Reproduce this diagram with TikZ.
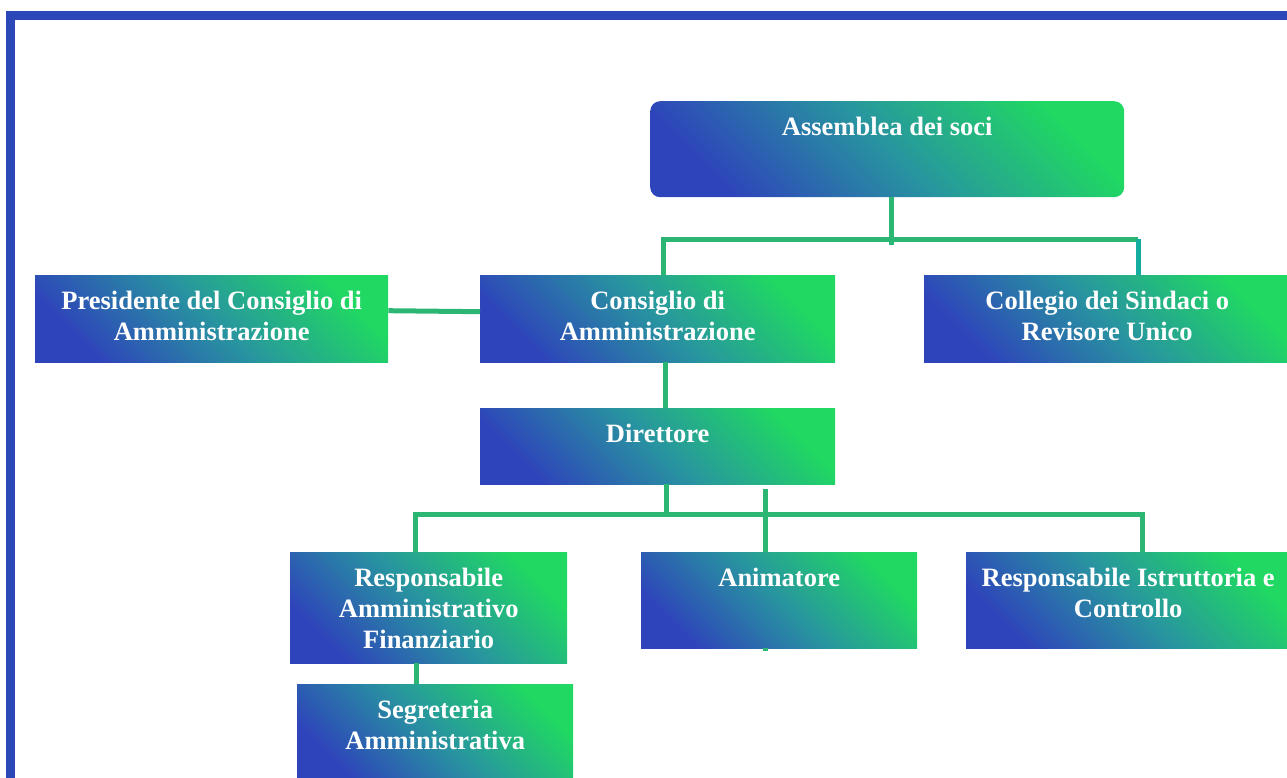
\documentclass[tikz,border=0pt]{standalone}
\usepackage{fontspec}
\setmainfont{Liberation Serif}
\definecolor{frameblue}{HTML}{2C48B8}
\definecolor{gblue}{HTML}{2E44BA}
\definecolor{gmid}{HTML}{2894A0}
\definecolor{ggreen}{HTML}{20D862}
\definecolor{lgreen}{HTML}{2CB674}
\definecolor{lteal}{HTML}{14ADA0}
\begin{document}
\begin{tikzpicture}[x=1pt,y=-1pt,
  box/.style={draw=none, inner sep=0pt, anchor=north west,
    top color=ggreen, bottom color=gblue, middle color=gmid, shading angle=-45},
  txt/.style={text=white, font=\fontsize{26.5}{31}\selectfont\bfseries,
    align=center, inner sep=0pt, anchor=north},
  conn/.style={draw=lgreen, line width=5pt}]
\useasboundingbox (0,0) rectangle (1287,778);
\clip (0,0) rectangle (1287,778);
% frame
\fill[frameblue] (6,11) rectangle (1287,20);
\fill[frameblue] (6,11) rectangle (15,778);
% boxes
\node[box, rounded corners=10pt, minimum width=474pt, minimum height=96pt] (A) at (650,101) {};
\node[box, minimum width=353pt, minimum height=87pt] (Pres) at (35,275) {};
\node[box, minimum width=355pt, minimum height=87pt] (Cons) at (480,275) {};
\node[box, minimum width=366pt, minimum height=87pt] (Col) at (924,275) {};
\node[box, minimum width=355pt, minimum height=76pt] (Dir) at (480,408) {};
\node[box, minimum width=277pt, minimum height=111pt] (RAF) at (290,552) {};
\node[box, minimum width=276pt, minimum height=96pt] (Anim) at (641,552) {};
\node[box, minimum width=324pt, minimum height=96pt] (RIC) at (966,552) {};
\node[box, minimum width=276pt, minimum height=96pt] (Seg) at (297,684) {};
% texts
\node[txt] (tA) at ([yshift=-16pt]A.north) {Assemblea dei soci};
\node[txt] (tPres) at ([yshift=-16pt]Pres.north) {Presidente del Consiglio di\\Amministrazione};
\node[txt] (tCons) at ([yshift=-16pt]Cons.north) {Consiglio di\\Amministrazione};
\node[txt] (tCol) at ([yshift=-16pt]Col.north) {Collegio dei Sindaci o\\Revisore Unico};
\node[txt] (tDir) at ([yshift=-16pt]Dir.north) {Direttore};
\node[txt] (tRAF) at ([yshift=-16pt]RAF.north) {Responsabile\\Amministrativo\\Finanziario};
\node[txt] (tAnim) at ([yshift=-16pt]Anim.north) {Animatore};
\node[txt] (tRIC) at ([yshift=-16pt]RIC.north) {Responsabile Istruttoria e\\Controllo};
\node[txt] (tSeg) at ([yshift=-16pt]Seg.north) {Segreteria\\Amministrativa};
% junctions
\coordinate (jA) at (891,239);
\coordinate (jA2) at (891,245);
\coordinate (jL) at (663,239);
\coordinate (jR) at (1138,239);
\coordinate (jCD) at (665,380);
\coordinate (jD) at (666,514);
\coordinate (jDL) at (415,514);
\coordinate (jDR) at (1142,514);
\coordinate (jM) at (765,489);
\coordinate (jS) at (416,670);
% connectors
\draw[conn] (A.south -| jA) -- (jA2);
\draw[conn] (Cons.north -| jL) -- (jL) -- (jR);
\draw[conn, draw=lteal] (jR) -- (Col.north -| jR);
\draw[conn] ([yshift=8pt]Pres.east) -- ([yshift=7pt]Cons.west);
\draw[conn] (Cons.south -| jCD) -- (Dir.north -| jCD);
\draw[conn] (Dir.south -| jD) -- (jD);
\draw[conn] (RAF.north -| jDL) -- (jDL) -- (jDR) -- (RIC.north -| jDR);
\draw[conn] (jM) -- (Anim.north -| jM);
\draw[conn] (Anim.south -| jM) -- ++(0,3);
\draw[conn] (RAF.south -| jS) -- (Seg.north -| jS);
\end{tikzpicture}
\end{document}
